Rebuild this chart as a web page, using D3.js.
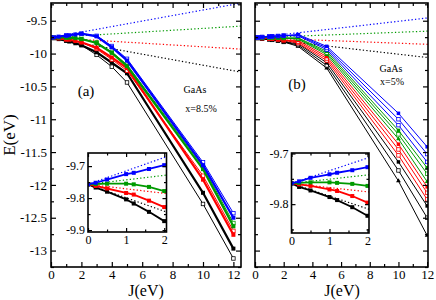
<!DOCTYPE html>
<html>
<head>
<meta charset="utf-8">
<script src="https://cdn.jsdelivr.net/npm/d3@7"></script>
<style>
body { margin: 0; background: #fff; }
svg text { font-family: "Liberation Serif", "Times New Roman", serif; }
</style>
</head>
<body>
<div id="chart"></div>
<script>
// J values (eV) where the energies were computed
var jFine = [0, 0.2, 0.5, 1, 1.2, 1.6, 2];
var jA = [0, 0.2, 0.5, 1, 1.2, 1.6, 2, 3, 4, 5, 10, 12];
var jAThin = [0, 1, 2, 3, 4, 5, 10, 12];
var jB = [0, 0.2, 0.5, 1, 1.2, 1.6, 2, 3, 5, 10, 12];

// panel (a), x = 8.5%  -- thick curves
var aBlue  = [-9.757, -9.752, -9.742, -9.725, -9.721, -9.709, -9.697, -9.738, -9.904, -10.106, -11.70, -12.50];
var aGreen = [-9.757, -9.756, -9.755, -9.755, -9.757, -9.765, -9.778, -9.840, -9.990, -10.190, -11.76, -12.63];
var aRed   = [-9.757, -9.762, -9.770, -9.784, -9.789, -9.808, -9.828, -9.910, -10.060, -10.220, -11.92, -12.76];
var aBlack = [-9.757, -9.767, -9.780, -9.804, -9.817, -9.843, -9.872, -9.980, -10.140, -10.300, -12.12, -12.97];
// panel (a) thin curves
var aBlueThin  = [-9.757, -9.725, -9.697, -9.730, -9.885, -10.080, -11.656, -12.43];
var aGreenThin = [-9.757, -9.755, -9.778, -9.830, -9.975, -10.170, -11.720, -12.58];
var aRedThin   = [-9.757, -9.784, -9.828, -9.930, -10.090, -10.260, -11.860, -12.70];
var aBlackThin = [-9.757, -9.804, -9.872, -10.020, -10.200, -10.440, -12.290, -13.12];

// panel (b), x = 5%
var bBlue1  = [-9.759, -9.755, -9.748, -9.741, -9.738, -9.733, -9.727, -9.710, -9.890, -10.91, -11.42];
var bBlue2  = [-9.759, -9.755, -9.748, -9.741, -9.738, -9.733, -9.727, -9.720, -9.915, -11.00, -11.53];
var bBlue3  = [-9.759, -9.755, -9.748, -9.741, -9.738, -9.733, -9.727, -9.730, -9.940, -11.09, -11.65];
var bGreen1 = [-9.759, -9.758, -9.757, -9.757, -9.758, -9.760, -9.764, -9.760, -9.965, -11.17, -11.74];
var bGreen2 = [-9.759, -9.758, -9.757, -9.757, -9.758, -9.760, -9.764, -9.770, -9.990, -11.23, -11.83];
var bGreen3 = [-9.759, -9.758, -9.757, -9.757, -9.758, -9.760, -9.764, -9.780, -10.015, -11.30, -11.95];
var bRed1   = [-9.759, -9.761, -9.764, -9.771, -9.774, -9.784, -9.797, -9.800, -10.045, -11.38, -12.03];
var bRed2   = [-9.759, -9.761, -9.764, -9.771, -9.774, -9.784, -9.797, -9.820, -10.075, -11.46, -12.12];
var bRed3   = [-9.759, -9.761, -9.764, -9.771, -9.774, -9.784, -9.797, -9.840, -10.105, -11.55, -12.22];
var bBlack1 = [-9.759, -9.766, -9.773, -9.786, -9.792, -9.806, -9.823, -9.850, -10.140, -11.65, -12.32];
var bBlack2 = [-9.759, -9.766, -9.773, -9.786, -9.792, -9.806, -9.823, -9.870, -10.180, -11.78, -12.50];
var bBlack3 = [-9.759, -9.766, -9.773, -9.786, -9.792, -9.806, -9.823, -9.890, -10.220, -11.94, -12.77];

// dotted straight lines (end points)
var dotJA = [0, 12.5];
var dotA = { blue: [-9.757, -9.232], green: [-9.757, -9.582], red: [-9.757, -9.932], black: [-9.757, -10.282] };
var dotJB = [0, 12.5];
var dotB = { blue: [-9.759, -9.446], green: [-9.759, -9.655], red: [-9.759, -9.863], black: [-9.759, -10.072] };

var xMajor = [0, 2, 4, 6, 8, 10, 12];
var xMinor = [1, 3, 5, 7, 9, 11];
var yMajor = [-9.5, -10, -10.5, -11, -11.5, -12, -12.5, -13];
var yMinor = [-9.25, -9.75, -10.25, -10.75, -11.25, -11.75, -12.25, -12.75, -13.25];

var colors = { blue: "#0000ff", green: "#009a00", red: "#ff0000", black: "#000000" };
var serif = "Liberation Serif, Times New Roman, serif";

var svgWidth = 436, svgHeight = 300;
var svg = d3.select("#chart").append("svg")
    .attr("width", svgWidth)
    .attr("height", svgHeight);

var plotTop = 3, plotBottom = 267;
var yScale = d3.scaleLinear().domain([-13.25, -9.23]).range([plotBottom, plotTop]);

function frameAxes(g, x, y, opt) {
    var l = x.range()[0], r = x.range()[1], t = y.range()[1], b = y.range()[0];
    g.append("g").attr("transform", `translate(0,${b})`)
        .call(d3.axisBottom(x).tickValues(opt.xMajor).tickSize(-opt.major).tickPadding(opt.padX)
        .tickFormat(d => String(d)));
    g.append("g").attr("transform", `translate(0,${b})`)
        .call(d3.axisBottom(x).tickValues(opt.xMinor).tickSize(-opt.minor).tickFormat(""));
    g.append("g").attr("transform", `translate(0,${t})`)
        .call(d3.axisTop(x).tickValues(opt.xMajor).tickSize(-opt.major).tickFormat(""));
    g.append("g").attr("transform", `translate(0,${t})`)
        .call(d3.axisTop(x).tickValues(opt.xMinor).tickSize(-opt.minor).tickFormat(""));
    g.append("g").attr("transform", `translate(${l},0)`)
        .call(d3.axisLeft(y).tickValues(opt.yMajor).tickSize(-opt.major).tickPadding(opt.padY)
        .tickFormat(opt.yLabels ? (d => String(d)) : ""));
    g.append("g").attr("transform", `translate(${l},0)`)
        .call(d3.axisLeft(y).tickValues(opt.yMinor).tickSize(-opt.minor).tickFormat(""));
    g.append("g").attr("transform", `translate(${r},0)`)
        .call(d3.axisRight(y).tickValues(opt.yMajor).tickSize(-opt.major).tickFormat(""));
    g.append("g").attr("transform", `translate(${r},0)`)
        .call(d3.axisRight(y).tickValues(opt.yMinor).tickSize(-opt.minor).tickFormat(""));
    g.selectAll("g").attr("font-family", serif).attr("font-size", opt.fontSize);
    g.selectAll("text").attr("fill", "#000");
    g.selectAll(".domain").remove();
    g.selectAll(".tick line").attr("stroke", "#000").attr("stroke-width", 1.2);
    g.append("rect").attr("x", l).attr("y", t).attr("width", r - l).attr("height", b - t)
        .attr("fill", "none").attr("stroke", "#000").attr("stroke-width", 1.6);
}

function drawSeries(g, x, y, js, es, s) {
    var pts = js.map((j, i) => [j, es[i]]).filter(p => p[0] <= s.jMax);
    var line = d3.line().x(d => x(d[0])).y(d => y(d[1]));
    g.append("path").datum(pts)
        .attr("d", line)
        .attr("fill", "none")
        .attr("stroke", s.color)
        .attr("stroke-width", s.width);
    if (s.marker === "tri") {
        g.selectAll(null).data(pts).enter().append("path")
            .attr("d", d3.symbol(d3.symbolTriangle, s.size * s.size * 0.8))
            .attr("transform", d => `translate(${x(d[0])},${y(d[1])})`)
            .attr("fill", s.color);
    } else {
        g.selectAll(null).data(pts).enter().append("rect")
            .attr("x", d => x(d[0]) - s.size / 2)
            .attr("y", d => y(d[1]) - s.size / 2)
            .attr("width", s.size).attr("height", s.size)
            .attr("fill", s.open ? "#fff" : s.color)
            .attr("stroke", s.color)
            .attr("stroke-width", s.open ? 0.8 : 0);
    }
}

function drawDots(g, x, y, js, dots) {
    ["blue", "green", "red", "black"].forEach(function(c) {
        g.append("path").datum(js.map((j, i) => [j, dots[c][i]]))
            .attr("d", d3.line().x(d => x(d[0])).y(d => y(d[1])))
            .attr("fill", "none")
            .attr("stroke", colors[c])
            .attr("stroke-width", 1.2)
            .attr("stroke-dasharray", "1.3,2.2");
    });
}

function clipped(id, x, y) {
    svg.append("clipPath").attr("id", id).append("rect")
        .attr("x", x.range()[0]).attr("y", y.range()[1])
        .attr("width", x.range()[1] - x.range()[0])
        .attr("height", y.range()[0] - y.range()[1]);
    return svg.append("g").attr("clip-path", `url(#${id})`);
}

// ---------------- panel (a)
var xA = d3.scaleLinear().domain([0, 12.5]).range([51, 241]);
var gA = clipped("clipA", xA, yScale);
drawDots(gA, xA, yScale, dotJA, dotA);
var seriesA = [
    [jAThin, aBlackThin, { color: colors.black, width: 1, size: 3.5, open: true }],
    [jA, aBlack, { color: colors.black, width: 2.2, size: 4 }],
    [jAThin, aRedThin, { color: colors.red, width: 1, size: 3.5, open: true }],
    [jA, aRed, { color: colors.red, width: 2.2, size: 4 }],
    [jAThin, aGreenThin, { color: colors.green, width: 1, size: 3.5, open: true }],
    [jA, aGreen, { color: colors.green, width: 2.2, size: 4 }],
    [jAThin, aBlueThin, { color: colors.blue, width: 1, size: 3.5, open: true }],
    [jA, aBlue, { color: colors.blue, width: 2.2, size: 4 }]
];
seriesA.forEach(s => drawSeries(gA, xA, yScale, s[0], s[1], Object.assign({ jMax: 99 }, s[2])));
frameAxes(svg.append("g"), xA, yScale, {
    xMajor: xMajor, xMinor: xMinor, yMajor: yMajor, yMinor: yMinor,
    major: 5, minor: 3, padX: 3, padY: 4, fontSize: 13, yLabels: true
});

// ---------------- panel (b)
var xB = d3.scaleLinear().domain([0, 12.06]).range([255, 428]);
var gB = clipped("clipB", xB, yScale);
drawDots(gB, xB, yScale, dotJB, dotB);
var seriesB = [
    [bBlack3, { color: colors.black, marker: "tri" }],
    [bBlack2, { color: colors.black, open: true }],
    [bBlack1, { color: colors.black }],
    [bRed3, { color: colors.red, open: true }],
    [bRed2, { color: colors.red, open: true }],
    [bRed1, { color: colors.red }],
    [bGreen3, { color: colors.green, marker: "tri" }],
    [bGreen2, { color: colors.green, open: true }],
    [bGreen1, { color: colors.green }],
    [bBlue3, { color: colors.blue, open: true }],
    [bBlue2, { color: colors.blue, open: true }],
    [bBlue1, { color: colors.blue }]
];
seriesB.forEach(s => drawSeries(gB, xB, yScale, jB, s[0], Object.assign({ jMax: 99, width: 1, size: 3.5 }, s[1])));
frameAxes(svg.append("g"), xB, yScale, {
    xMajor: xMajor, xMinor: xMinor, yMajor: yMajor, yMinor: yMinor,
    major: 5, minor: 3, padX: 3, padY: 4, fontSize: 13, yLabels: false
});

// ---------------- insets
function inset(id, x, y, series, dotJs, dots, yMaj, yMin) {
    svg.append("rect").attr("x", x.range()[0]).attr("y", y.range()[1])
        .attr("width", x.range()[1] - x.range()[0]).attr("height", y.range()[0] - y.range()[1])
        .attr("fill", "#fff");
    var g = clipped(id, x, y);
    drawDots(g, x, y, dotJs, dots);
    series.forEach(s => drawSeries(g, x, y, jFine, s[0], { color: s[1], width: 1.8, size: 4, jMax: 2 }));
    frameAxes(svg.append("g"), x, y, {
        xMajor: [0, 1, 2], xMinor: [0.5, 1.5], yMajor: yMaj, yMinor: yMin,
        major: 4, minor: 2.5, padX: 3, padY: 3, fontSize: 12, yLabels: true
    });
}
var xIA = d3.scaleLinear().domain([0, 2.06]).range([88, 166.5]);
var yIA = d3.scaleLinear().domain([-9.906, -9.659]).range([232, 153]);
inset("clipIA", xIA, yIA, [
    [aBlack.slice(0, 7), colors.black], [aRed.slice(0, 7), colors.red],
    [aGreen.slice(0, 7), colors.green], [aBlue.slice(0, 7), colors.blue]
], dotJA, dotA, [-9.7, -9.8, -9.9], [-9.75, -9.85]);

var xIB = d3.scaleLinear().domain([0, 2.04]).range([291.5, 369]);
var yIB = d3.scaleLinear().domain([-9.857, -9.699]).range([233, 153]);
inset("clipIB", xIB, yIB, [
    [bBlack1.slice(0, 7), colors.black], [bRed1.slice(0, 7), colors.red],
    [bGreen1.slice(0, 7), colors.green], [bBlue1.slice(0, 7), colors.blue]
], dotJB, dotB, [-9.7, -9.8], [-9.75, -9.85]);

// ---------------- labels
function label(x, y, t, size, anchor) {
    return svg.append("text").attr("x", x).attr("y", y)
        .attr("font-family", serif)
        .attr("font-size", size).attr("text-anchor", anchor || "middle").text(t);
}
label(86, 96, "(a)", 15);
label(195, 93, "GaAs", 10);
label(201, 112, "x=8.5%", 10);
label(297, 89, "(b)", 15);
label(391, 72, "GaAs", 10);
label(392, 85, "x=5%", 10);
label(146, 296, "J(eV)", 16);
label(342, 296, "J(eV)", 16);
svg.append("text")
    .attr("transform", "translate(15,135) rotate(-90)")
    .attr("font-family", serif)
    .attr("font-size", 17).attr("text-anchor", "middle").text("E(eV)");
</script>
</body>
</html>
